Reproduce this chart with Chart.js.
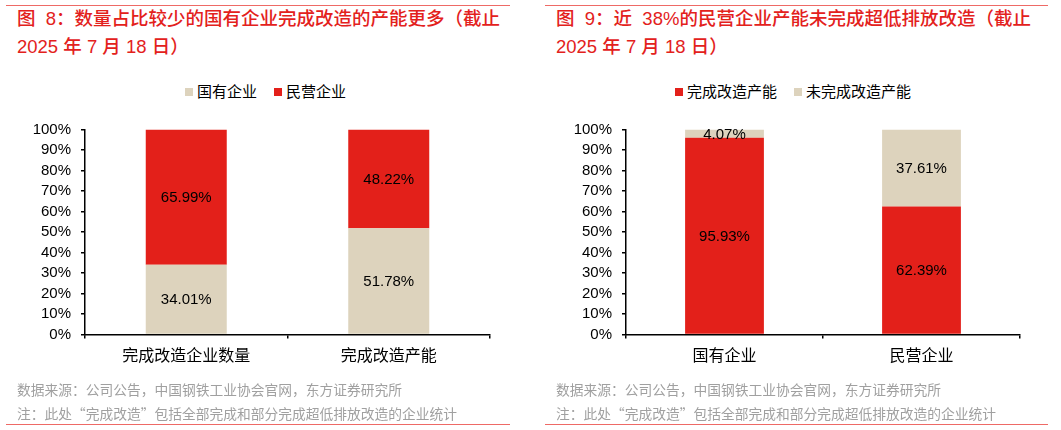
<!DOCTYPE html>
<html>
<head>
<meta charset="utf-8">
<script src="https://cdn.jsdelivr.net/npm/chart.js@4.4.1/dist/chart.umd.min.js"></script>
<style>
  body { margin: 0; background: #fff; width: 1061px; height: 430px; position: relative; overflow: hidden;
         font-family: "Liberation Sans", "Noto Sans CJK SC", sans-serif; }
  .rule { position: absolute; height: 1.5px; background: #ee6a66; }
  .title { position: absolute; top: 5px; color: #e3211c; font-size: 18.5px; line-height: 28px; font-weight: 500; white-space: nowrap; }
  .note { position: absolute; top: 377px; color: #a0a0a0; font-size: 13.75px; line-height: 24px; white-space: nowrap;
          font-family: "Noto Sans CJK SC", sans-serif; }
  .legend { position: absolute; top: 82px; height: 20px; font-size: 15px; line-height: 20px; color: #000; white-space: nowrap; }
  .legend span.box { display: inline-block; width: 8px; height: 8px; margin-right: 4px; vertical-align: 1px; }
  .legend span.item { margin-right: 17px; }
  .wrap { position: absolute; top: 110px; height: 270px; }
</style>
</head>
<body>
<div class="rule" style="left:6px; width:504px; top:4.5px"></div>
<div class="rule" style="left:545px; width:503px; top:4.5px"></div>
<div class="rule" style="left:6px; width:504px; top:423.5px"></div>
<div class="rule" style="left:545px; width:503px; top:423.5px"></div>

<div class="title" style="left:17px">图&nbsp; 8：数量占比较少的国有企业完成改造的产能更多（截止<br>2025 年 7 月 18 日）</div>
<div class="title" style="left:556px">图&nbsp; 9：近&nbsp; 38%的民营企业产能未完成超低排放改造（截止<br>2025 年 7 月 18 日）</div>

<div class="legend" id="legend1" style="left:185px"></div>
<div class="legend" id="legend2" style="left:675px"></div>

<div class="wrap" style="left:0; width:510px"><canvas id="chart1" width="510" height="270"></canvas></div>
<div class="wrap" style="left:540px; width:500px"><canvas id="chart2" width="500" height="270"></canvas></div>

<div class="note" style="left:17px">数据来源：公司公告，中国钢铁工业协会官网，东方证券研究所<br>注：此处“完成改造”包括全部完成和部分完成超低排放改造的企业统计</div>
<div class="note" style="left:556px">数据来源：公司公告，中国钢铁工业协会官网，东方证券研究所<br>注：此处“完成改造”包括全部完成和部分完成超低排放改造的企业统计</div>

<script>
const RED = "#e3201a";
const BEIGE = "#ddd3bd";

// chart 8
const categories1 = ["完成改造企业数量", "完成改造产能"];
const stateOwned = [34.01, 51.78];
const privateOwned = [65.99, 48.22];

// chart 9
const categories2 = ["国有企业", "民营企业"];
const doneCapacity = [95.93, 62.39];
const notDoneCapacity = [4.07, 37.61];

const yTicks = [0, 10, 20, 30, 40, 50, 60, 70, 80, 90, 100];

const FONT = '"Liberation Sans", "Noto Sans CJK SC", sans-serif';

// value labels in the middle of each segment
const valueLabels = {
  id: "valueLabels",
  afterDatasetsDraw(chart) {
    const ctx = chart.ctx;
    ctx.save();
    ctx.font = "15px " + FONT;
    ctx.fillStyle = "#000";
    ctx.textAlign = "center";
    ctx.textBaseline = "middle";
    chart.data.datasets.forEach((ds, i) => {
      chart.getDatasetMeta(i).data.forEach((bar, j) => {
        const p = bar.getProps(["x", "y", "base"], true);
        ctx.fillText(ds.data[j].toFixed(2) + "%", p.x, (p.y + p.base) / 2 + 1);
      });
    });
    ctx.restore();
  }
};

function buildLegend(el, datasets) {
  el.innerHTML = datasets.map(d =>
    '<span class="item"><span class="box" style="background:' + d.backgroundColor + '"></span>' + d.label + '</span>'
  ).join("");
}

function makeChart(canvas, labels, datasets, yWidth) {
  return new Chart(canvas, {
    type: "bar",
    data: { labels, datasets },
    plugins: [valueLabels],
    options: {
      responsive: false,
      animation: false,
      layout: { padding: { top: 19.5, right: 20, left: 0, bottom: 0 } },
      plugins: { legend: { display: false }, tooltip: { enabled: false } },
      datasets: { bar: { barPercentage: 0.4, categoryPercentage: 1, borderWidth: 0 } },
      scales: {
        x: {
          stacked: true,
          border: { color: "#000", width: 1.5 },
          grid: { drawOnChartArea: false, color: "#000", tickLength: 4, lineWidth: 1.5 },
          ticks: { color: "#000", font: { size: 16, family: FONT }, padding: 8 },
          afterFit(scale) { scale.height = 45.5; }
        },
        y: {
          stacked: true,
          min: 0,
          max: 100,
          border: { color: "#000", width: 1.5 },
          grid: { drawOnChartArea: false, color: "#000", tickLength: 4, lineWidth: 1.5 },
          afterBuildTicks(scale) { scale.ticks = yTicks.map(v => ({ value: v })); },
          ticks: { color: "#000", font: { size: 15, family: FONT }, padding: 10, autoSkip: false,
                   callback: v => v + "%" },
          afterFit(scale) { scale.width = yWidth; }
        }
      }
    }
  });
}

const ds1 = [
  { label: "国有企业", data: stateOwned, backgroundColor: BEIGE },
  { label: "民营企业", data: privateOwned, backgroundColor: RED }
];
const ds2 = [
  { label: "完成改造产能", data: doneCapacity, backgroundColor: RED },
  { label: "未完成改造产能", data: notDoneCapacity, backgroundColor: BEIGE }
];

buildLegend(document.getElementById("legend1"), ds1);
buildLegend(document.getElementById("legend2"), ds2);

makeChart(document.getElementById("chart1"), categories1, ds1, 85);
makeChart(document.getElementById("chart2"), categories2, ds2, 86);
</script>
</body>
</html>
